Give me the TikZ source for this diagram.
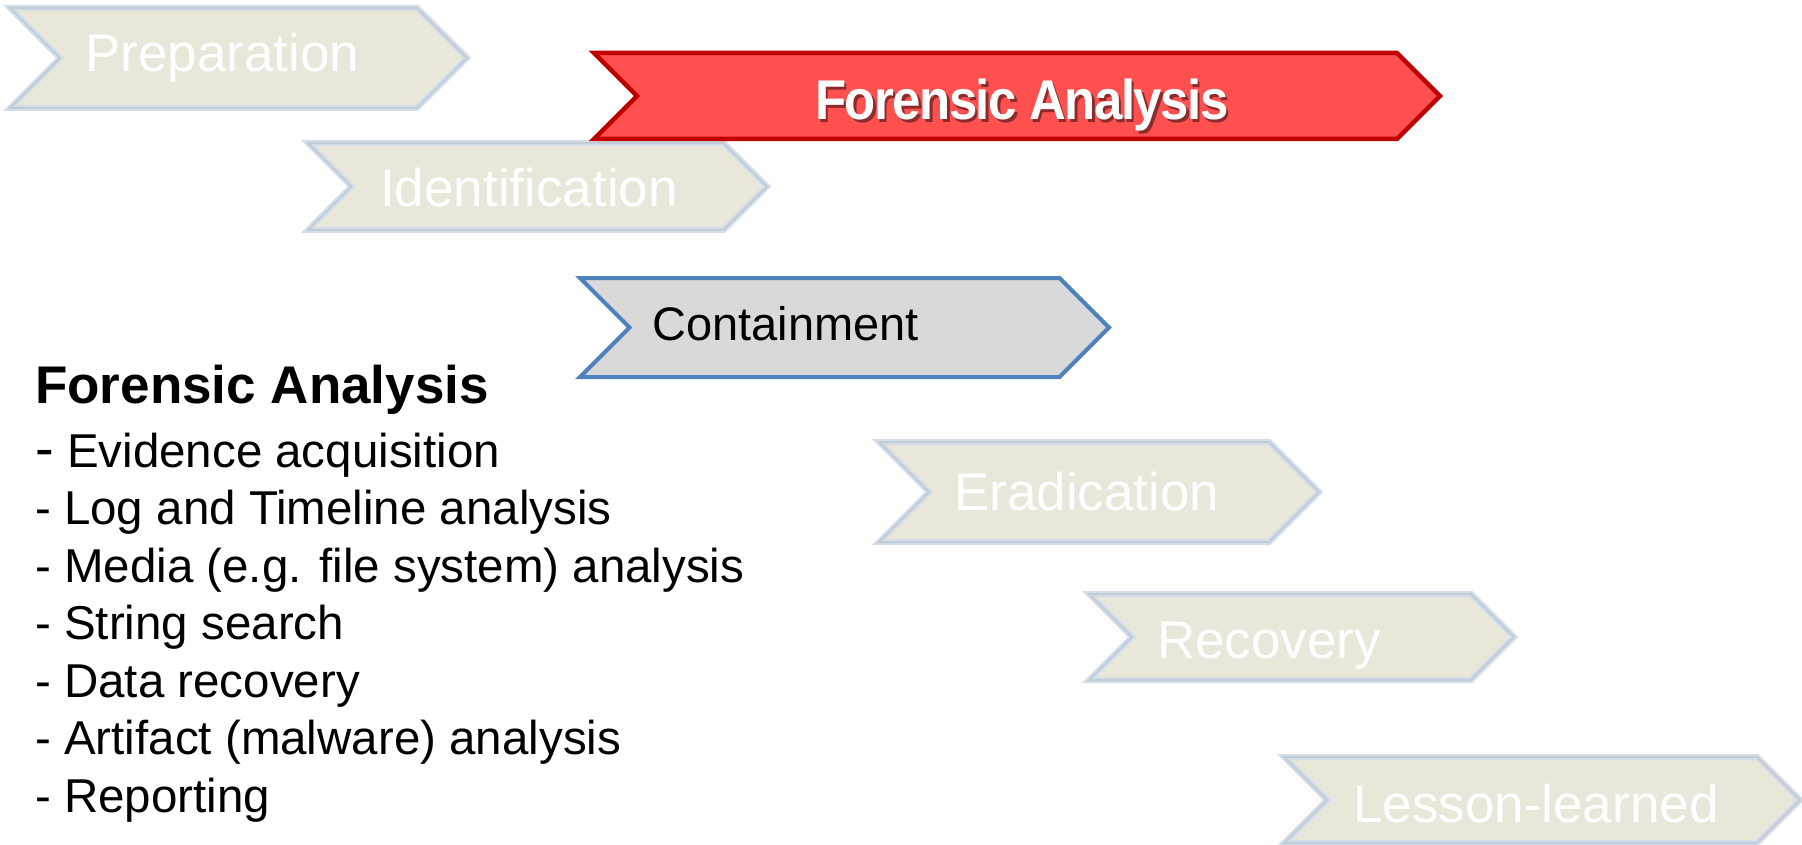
\documentclass[tikz,border=0pt]{standalone}
\usepackage{fontspec}
\usepackage{graphicx}
\setmainfont{Liberation Sans}
\definecolor{chevfill}{HTML}{E9E6DA}
\definecolor{chevedge}{HTML}{D3DEEA}
\definecolor{chevinner}{HTML}{C2CCD4}
\definecolor{activefill}{HTML}{FF5050}
\definecolor{activeedge}{HTML}{C00000}
\definecolor{curfill}{HTML}{D9D9D9}
\definecolor{curedge}{HTML}{4F81BD}
% chevron: style, left, top, right, bottom (pixel units, y downwards)
\newcommand{\chev}[5]{%
  \pgfmathsetmacro{\chh}{(#5-#3)/2}%
  \path[#1] (#2,#3) -- ({#4-\chh},#3) -- (#4,{#3+\chh}) -- ({#4-\chh},#5)
    -- (#2,#5) -- ({#2+\chh},{#3+\chh}) -- cycle;%
}
\tikzset{
  phase/.style={fill=chevfill, draw=chevedge, line width=6pt,
    postaction={draw=chevinner, line width=2pt}},
  activephase/.style={fill=activefill, draw=activeedge, line width=4.5pt},
  curphase/.style={fill=curfill, draw=curedge, line width=4pt},
  phasetext/.style={anchor=base west, inner sep=0pt, text=white,
    font=\fontsize{53}{60}\selectfont},
  curtext/.style={anchor=base west, inner sep=0pt, text=black,
    font=\fontsize{47}{54}\selectfont},
  activetext/.style={anchor=base west, inner sep=0pt, text=white,
    font=\fontsize{56}{60}\selectfont\bfseries},
  headtext/.style={anchor=base west, inner sep=0pt,
    font=\fontsize{53}{60}\selectfont\bfseries},
  itemtext/.style={anchor=base west, inner sep=0pt,
    font=\fontsize{47.5}{55}\selectfont},
}
\newcommand{\activelabel}{\scalebox{0.91}[1]{\addfontfeature{LetterSpace=-3}Forensic Analysis}}
\begin{document}
\begin{tikzpicture}[x=1pt, y=-1pt]
\useasboundingbox (0,0) rectangle (1802,845);

% phase chevrons
\chev{phase}{10}{8}{467}{108}
\chev{phase}{308}{143}{767}{230}
\chev{activephase}{594}{53}{1440}{139}
\chev{curphase}{580}{278}{1109}{377}
\chev{phase}{879}{442}{1319}{542}
\chev{phase}{1089}{594}{1514}{680}
\chev{phase}{1284}{757}{1800}{843}

% phase labels
\node[phasetext] (prep) at (85,72) {Preparation};
\node[phasetext] (ident) at (380,207) {Identification};
\node[anchor=base west, inner sep=0pt, text=black, opacity=0.45,
  font=\fontsize{56}{60}\selectfont\bfseries] (forshadow) at (817.5,122.5) {\activelabel};
\node[activetext] (forensic) at (815,120) {\activelabel};
\node[curtext] (contain) at (652,340) {Containment};
\node[phasetext] (erad) at (954,510) {Eradication};
\node[phasetext] (recov) at (1157,658) {Recovery};
\node[phasetext] (lesson) at (1353,822) {Lesson-learned};

% task list of the active phase
\node[headtext] (head) at (35,403) {Forensic Analysis};
\node[itemtext] (i1) at (35,467) {{\fontsize{56}{55}\selectfont-} Evidence acquisition};
\node[itemtext] (i2) at (35,524.5) {- Log and Timeline analysis};
\node[itemtext] (i3) at (35,582) {- Media (e.g. file system) analysis};
\node[itemtext] (i4) at (35,639.5) {- String search};
\node[itemtext] (i5) at (35,697) {- Data recovery};
\node[itemtext] (i6) at (35,754.5) {- Artifact (malware) analysis};
\node[itemtext] (i7) at (35,812) {- Reporting};
\end{tikzpicture}
\end{document}
